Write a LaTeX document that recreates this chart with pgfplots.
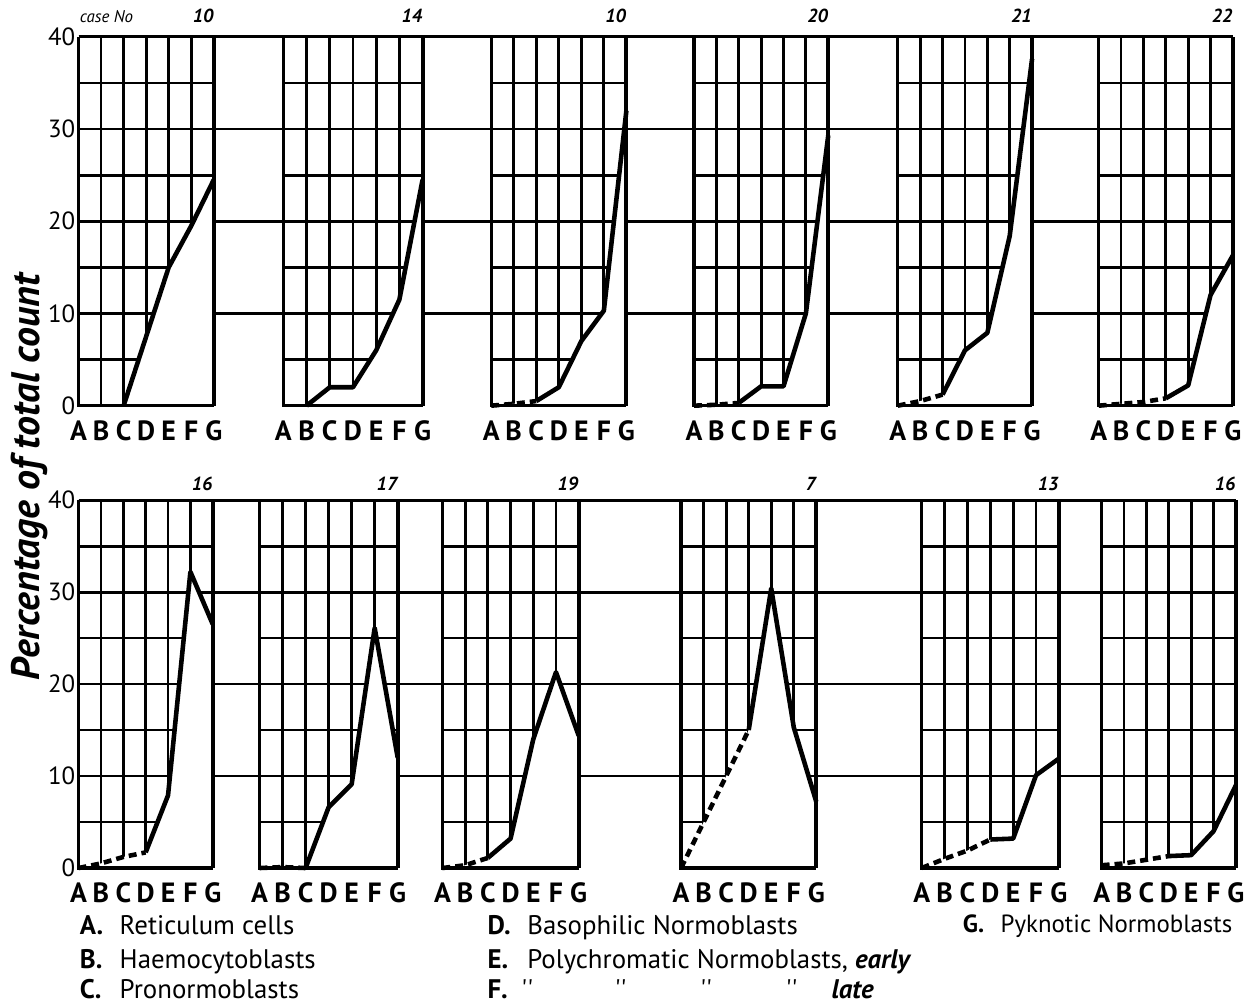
\documentclass[border=0pt]{standalone}
\usepackage{fontspec}
\setmainfont{PT Sans}
\newfontfamily\legfont{PT Sans}
\usepackage{pgfplots}
\pgfplotsset{compat=1.18}

% one small chart: categories A..G at x = 0..6, percentage 0..40
\pgfplotsset{
  panel/.style={
    scale only axis, anchor=south west,
    xmin=0, xmax=6, ymin=0, ymax=40,
    xtick={0,...,6}, xticklabels={A,B,C,D,E,F,G},
    ytick={0,10,20,30,40}, minor ytick={5,15,25,35},
    xmajorgrids, ymajorgrids, yminorgrids,
    grid style={black, line width=1.4pt},
    minor grid style={black, line width=1.4pt},
    axis line style={draw=none},
    major tick length=0pt, minor tick length=0pt,
    xticklabel style={font=\fontsize{14}{16}\selectfont\bfseries, yshift=-4pt},
    yticklabel style={font=\fontsize{12.5}{14}\selectfont, inner sep=1.5pt},
    /pgf/number format/assume math mode=true,
    yticklabels={},
    clip=false,
  },
  rowlines/.style={
    scale only axis, anchor=south west,
    xmin=0, xmax=1, ymin=0, ymax=40,
    xtick=\empty, ytick={10,20,30,40}, yticklabels={},
    ymajorgrids, grid style={black, line width=1.4pt},
    axis line style={draw=none}, major tick length=0pt,
  },
}

% #1 extra options, #2 x, #3 y, #4 width, #5 case no, #6 dashed part, #7 solid part
\newcommand\panel[7][]{%
  \begin{axis}[panel, at={(#2,#3)}, width=#4, height=\rowh, #1]
    \addplot[draw=none, fill=white] coordinates {#6 #7} \closedcycle;
    \addplot[line width=2.3pt, dash pattern=on 4pt off 2.5pt] coordinates {#6};
    \addplot[line width=2.3pt, line join=round] coordinates {#7};
    \addplot[line width=1.6pt] coordinates {(0,40) (0,0) (6,0)};
    \addplot[line width=2pt] coordinates {(6,0) (6,40)};
    \node[anchor=base east, inner sep=0pt, yshift=\caseshift,
      font=\fontsize{9.5}{10}\selectfont\bfseries\itshape] at (rel axis cs:1,1) {#5};
  \end{axis}}

\begin{document}
\begin{tikzpicture}
\path (0,0) rectangle (625.5pt,-504.5pt);

%% top row
\def\rowh{185.5pt}
\def\caseshift{7pt}
\begin{axis}[rowlines, at={(39.5pt,-204pt)}, width=580.5pt, height=\rowh]
\end{axis}
\panel[yticklabels={0,10,20,30,40}]{39.5pt}{-204pt}{68pt}{10}{}
  {(2,0) (3,7.5) (4,15) (5,19.5) (6,24.5)}
\panel{142.5pt}{-204pt}{70pt}{14}{}
  {(1,0) (2,2) (3,2) (4,6) (5,11.5) (6,24.5)}
\panel{247pt}{-204pt}{68pt}{10}{(0,0) (1,0.2) (2,0.5)}
  {(2,0.5) (3,2) (4,7) (5,10.3) (6,32)}
\panel{349pt}{-204pt}{67.5pt}{20}{(0,0) (1,0.1) (2,0.3)}
  {(2,0.3) (3,2.1) (4,2.1) (5,10) (6,29.3)}
\panel{451.5pt}{-204pt}{67.5pt}{21}{(0,0) (1,0.5) (2,1.2)}
  {(2,1.2) (3,6) (4,7.9) (5,18.4) (6,37.6)}
\panel{552.5pt}{-204pt}{67.5pt}{22}{(0,0) (1,0.2) (2,0.4) (3,0.8)}
  {(3,0.8) (4,2.2) (5,12) (6,16.3)}

%% bottom row
\def\rowh{185pt}
\def\caseshift{5pt}
\begin{axis}[rowlines, at={(39.5pt,-436.5pt)}, width=582pt, height=\rowh]
\end{axis}
\panel[yticklabels={0,10,20,30,40}]{39.5pt}{-436.5pt}{67.5pt}{16}{(0,0) (1,0.5) (2,1.2) (3,1.7)}
  {(3,1.7) (4,7.9) (5,32.2) (6,26.5)}
\panel{130.5pt}{-436.5pt}{69.5pt}{17}{(0,0) (1,0.1) (2,0)}
  {(2,0) (3,6.6) (4,9.1) (5,26.1) (6,12)}
\panel{222.5pt}{-436.5pt}{68.5pt}{19}{(0,0) (1,0.3) (2,1.1)}
  {(2,1.1) (3,3.2) (4,14) (5,21.3) (6,14.4)}
\panel{342.5pt}{-436.5pt}{68pt}{7}{(0,0) (1,5) (2,10) (3,15)}
  {(3,15) (4,30.4) (5,15.3) (6,7.2)}
\panel{463.5pt}{-436.5pt}{69pt}{13}{(0,0) (1,1) (2,1.9) (3,3.1)}
  {(3,3.1) (4,3.2) (5,10.1) (6,11.9)}
\panel{554pt}{-436.5pt}{67.5pt}{16}{(0,0.3) (1,0.5) (2,0.9) (3,1.3)}
  {(3,1.3) (4,1.4) (5,4) (6,9)}

%% labels
\node[anchor=base west, inner sep=0pt, font=\fontsize{8.5}{9}\selectfont\itshape]
  at (40pt,-11.5pt) {case No};
\node[rotate=90, font=\fontsize{20}{24}\selectfont\bfseries\itshape]
  at (15pt,-240pt) {Percentage of total count};

\begin{scope}[every node/.style={anchor=base west, inner sep=0pt,
    font=\legfont\fontsize{13.5}{15}\selectfont}]
  \node at (40pt,-470pt) {\bfseries A.};  \node at (60pt,-470pt) {Reticulum cells};
  \node at (40pt,-487pt) {\bfseries B.};  \node at (60pt,-487pt) {Haemocytoblasts};
  \node at (40pt,-502pt) {\bfseries C.};  \node at (60pt,-502pt) {Pronormoblasts};
  \node at (245pt,-470pt) {\bfseries D.}; \node at (265pt,-470pt) {Basophilic Normoblasts};
  \node at (245pt,-487pt) {\bfseries E.}; \node at (265pt,-487pt) {Polychromatic Normoblasts, \textbf{\textit{early}}};
  \node at (245pt,-502pt) {\bfseries F.};
  \node at (262pt,-502pt) {''}; \node at (309pt,-502pt) {''};
  \node at (352pt,-502pt) {''}; \node at (395pt,-502pt) {''};
  \node at (418pt,-502pt) {\textbf{\textit{late}}};
  \node[font=\legfont\fontsize{12.5}{15}\selectfont] at (484pt,-469pt) {\bfseries G.};
  \node[font=\legfont\fontsize{12.5}{15}\selectfont] at (503pt,-469pt) {Pyknotic Normoblasts};
\end{scope}
\end{tikzpicture}
\end{document}
